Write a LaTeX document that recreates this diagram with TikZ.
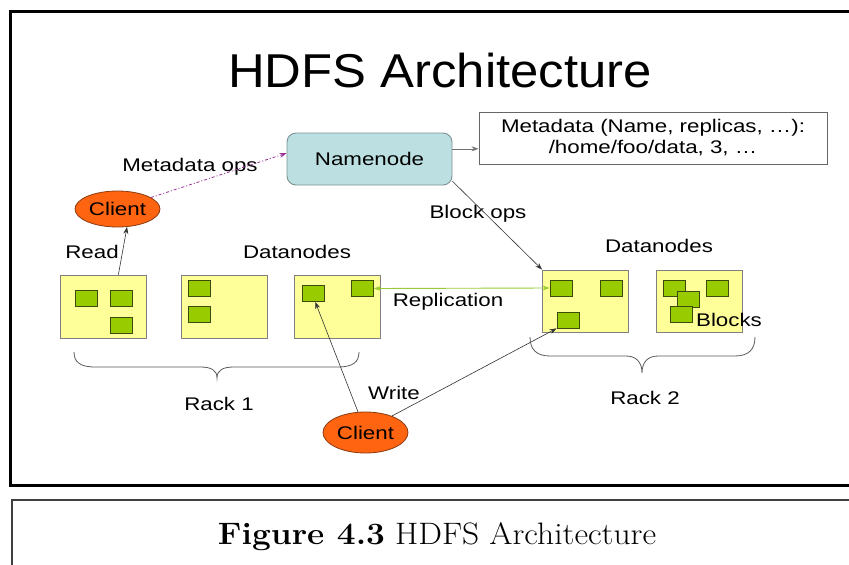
\documentclass[tikz,border=0pt]{standalone}
\usepackage{fontspec}
\usepackage{graphicx}
\usetikzlibrary{shapes.geometric,arrows.meta,calc}
\newfontfamily\titlefont[FakeStretch=1.07]{Liberation Sans}
\newfontfamily\lblfont[FakeStretch=1.22]{Liberation Sans}
\definecolor{nnfill}{HTML}{BCE0E2}
\definecolor{nnline}{HTML}{7D9296}
\definecolor{clientfill}{HTML}{FF6410}
\definecolor{clientline}{HTML}{8A3A10}
\definecolor{dnfill}{HTML}{FFFF99}
\definecolor{dnline}{HTML}{808080}
\definecolor{blkfill}{HTML}{99CC00}
\definecolor{blkline}{HTML}{3A4A10}
\definecolor{mdops}{HTML}{993399}
\definecolor{repl}{HTML}{99CC33}
\tikzset{
  lbl/.style={font=\lblfont\fontsize{18.3}{22}\selectfont, inner sep=0pt},
  namebox/.style={draw=nnline, fill=nnfill, rounded corners=9pt, line width=0.9pt,
    minimum width=165pt, minimum height=52pt, inner sep=0pt, lbl},
  metabox/.style={draw=black!60, fill=white, line width=0.9pt, minimum width=348pt,
    minimum height=52pt, inner sep=0pt, align=center, lbl},
  clientnode/.style={ellipse, draw=clientline, fill=clientfill, line width=0.8pt,
    inner sep=0pt, lbl},
  dnbox/.style={draw=dnline, fill=dnfill, line width=0.9pt, minimum width=86pt,
    minimum height=63pt, inner sep=0pt},
  blk/.style={draw=blkline, fill=blkfill, line width=0.8pt, minimum width=22pt,
    minimum height=16pt, inner sep=0pt},
  conn/.style={draw=black!80, line width=0.6pt, -{Stealth[length=7pt,width=5pt]}},
  brace/.style={draw=black!65, line width=0.8pt}
}
\begin{document}
\begin{tikzpicture}[x=1pt, y=-1pt]
\useasboundingbox (0,0) rectangle (849,565);
\clip (0,0) rectangle (849,565);
\fill[white] (0,0) rectangle (849,565);

% frames
\draw[line width=3pt, black] (10,11) rectangle (870,485);
\draw[line width=2pt, black!75] (12,500) rectangle (870,600);

% title and caption
\node[anchor=base, inner sep=0pt, font=\titlefont\fontsize{47.5}{50}\selectfont] (title) at (440,87) {HDFS Architecture};
\node[anchor=base, inner sep=0pt, font=\fontsize{31}{34}\selectfont] (caption) at (437,544)
  {\scalebox{1.08}[1]{\textbf{Figure 4.3} HDFS Architecture}};

% namenode and metadata
\node[namebox] (nn) at (369.5,159) {Namenode};
\node[metabox] (meta) at (653,138) {Metadata (Name, replicas, \dots):\\[-1pt] /home/foo/data, 3, \dots};

% clients
\node[clientnode, minimum width=85pt, minimum height=36pt] (c1) at (117.5,209) {Client};
\node[clientnode, minimum width=85pt, minimum height=41pt] (c2) at (365.5,432.5) {Client};

% datanodes, rack 1
\node[dnbox] (dn1) at (103.5,306.5) {};
\node[dnbox] (dn2) at (224,306.5) {};
\node[dnbox] (dn3) at (337.5,306.5) {};
% datanodes, rack 2
\node[dnbox, minimum height=62pt] (dn4) at (585.5,301) {};
\node[dnbox, minimum height=62pt] (dn5) at (699.5,301) {};

% blocks
\node[blk] (b11) at (86,298.5) {};
\node[blk] (b12) at (121,298.5) {};
\node[blk] (b13) at (121,325) {};
\node[blk] (b21) at (199,288.5) {};
\node[blk] (b22) at (199,314.5) {};
\node[blk] (b31) at (313,293.5) {};
\node[blk] (b32) at (362.5,288.5) {};
\node[blk] (b41) at (561,288) {};
\node[blk] (b42) at (611,288) {};
\node[blk] (b43) at (568,320) {};
\node[blk] (b51) at (674,288) {};
\node[blk] (b52) at (688.5,299) {};
\node[blk] (b53) at (681.5,314) {};
\node[blk] (b54) at (717.5,288) {};

% labels
\node[lbl] (lmd) at (190,167) {Metadata ops};
\node[lbl] (lread) at (92,252) {Read};
\node[lbl] (ldn1) at (297,252) {Datanodes};
\node[lbl] (ldn2) at (659,246) {Datanodes};
\node[lbl] (lbo) at (478,214) {Block ops};
\node[lbl] (lrep) at (448,302) {Replication};
\node[lbl] (lblk) at (729,320) {Blocks};
\node[lbl] (lwr) at (394,393) {Write};
\node[lbl] (lr1) at (219,404) {Rack 1};
\node[lbl] (lr2) at (645,398) {Rack 2};

% connectors
\draw[conn] (dn1.65) -- (c1.-62);
\draw[draw=mdops, line width=0.8pt, dash pattern=on 3pt off 2pt on 1pt off 2pt,
  -{Stealth[length=7pt,width=5pt]}] (c1.19) -- (nn.176);
\draw[conn, draw=black!55] (nn.7) -- (meta.west |- nn.7);
\draw[conn] (nn.-15) -- (dn4.north west);
\draw[draw=repl, line width=0.9pt, {Stealth[length=7pt,width=5pt]}-{Stealth[length=7pt,width=5pt]}]
  (b32.east) -- (b41.west);
\draw[conn] (c2.110) -- (b31.-75);
\draw[conn] (c2.32) -- (b43.south west);

% rack braces
\draw[brace] (74,352) .. controls (74,362) and (80,367) .. (95,367) -- (200,367)
  .. controls (211,367) and (217,370) .. (217,378)
  .. controls (217,370) and (223,367) .. (234,367) -- (338,367)
  .. controls (353,367) and (359,362) .. (359,352);
\draw[brace] (530,337) .. controls (530,349) and (536,356) .. (550,356) -- (626,356)
  .. controls (636,356) and (642,362) .. (642,373)
  .. controls (642,362) and (648,356) .. (658,356) -- (735,356)
  .. controls (749,356) and (755,349) .. (755,337);
\end{tikzpicture}
\end{document}
